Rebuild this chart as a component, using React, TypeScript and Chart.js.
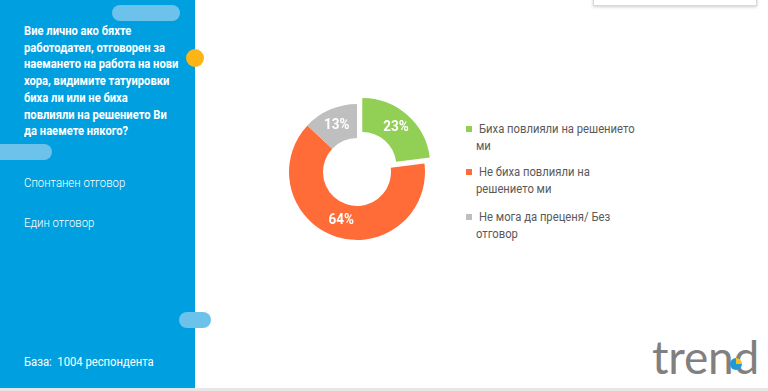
import React, { useEffect, useRef } from "react";
import { Chart, registerables } from "chart.js";

Chart.register(...registerables);

const categories = [
  "Биха повлияли на решението ми",
  "Не биха повлияли на решението ми",
  "Не мога да преценя/ Без отговор",
];
const legendLines = [
  ["Биха повлияли на решението", "ми"],
  ["Не биха повлияли на", "решението ми"],
  ["Не мога да преценя/ Без", "отговор"],
];
const values = [23, 64, 13];
const colors = ["#92CF55", "#FF6C37", "#BFBFBF"];
const offsets = [32, 0, 0];
const questionLines = [
  "Вие лично ако бяхте",
  "работодател, отговорен за",
  "наемането на работа на нови",
  "хора, видимите татуировки",
  "биха ли или не биха",
  "повлияли на решението Ви",
  "да наемете някого?",
];
const noteLines = ["Спонтанен отговор", "Един отговор"];
const baseText = "База:  1004 респондента";

const labelPlugin = {
  id: "sliceLabels",
  afterDatasetsDraw(chart: any) {
    const ctx = chart.ctx;
    const meta = chart.getDatasetMeta(0);
    ctx.save();
    ctx.fillStyle = "#ffffff";
    ctx.font = "bold 15px Roboto";
    ctx.textAlign = "center";
    ctx.textBaseline = "middle";
    meta.data.forEach((arc: any, i: number) => {
      const p = arc.getProps(["x", "y", "startAngle", "endAngle", "innerRadius", "outerRadius"], true);
      const mid = (p.startAngle + p.endAngle) / 2;
      const off = (arc.options.offset || 0) / 4;
      const r = (p.innerRadius + p.outerRadius) / 2;
      const x = p.x + Math.cos(mid) * (r + off);
      const y = p.y + Math.sin(mid) * (r + off);
      ctx.save();
      ctx.translate(x, y);
      ctx.scale(0.9, 1);
      ctx.fillText(values[i] + "%", 0, 0);
      ctx.restore();
    });
    ctx.restore();
  },
};

export default function App() {
  const ref = useRef<HTMLCanvasElement>(null);
  useEffect(() => {
    if (!ref.current) return;
    const chart = new Chart(ref.current, {
      type: "doughnut",
      data: {
        labels: categories,
        datasets: [
          {
            data: values,
            backgroundColor: colors,
            borderWidth: 0,
            offset: offsets,
            hoverOffset: 0,
          },
        ],
      },
      options: {
        animation: false,
        responsive: true,
        maintainAspectRatio: false,
        cutout: "50%",
        rotation: 0,
        layout: { padding: 0 },
        plugins: {
          legend: { display: false },
          tooltip: { enabled: false },
        },
      },
      plugins: [labelPlugin],
    });
    return () => chart.destroy();
  }, []);

  const pill = (left: number, top: number, w: number, h: number) => (
    <div
      style={{
        position: "absolute",
        left,
        top,
        width: w,
        height: h,
        borderRadius: h / 2,
        background: "#6DC2EC",
      }}
    />
  );

  return (
    <div
      style={{
        position: "fixed",
        left: 0,
        top: 0,
        width: 768,
        height: 391,
        background: "#ffffff",
        overflow: "hidden",
        fontFamily: "Roboto, sans-serif",
      }}
    >
      <div style={{ position: "absolute", left: 0, top: 388, width: 768, height: 3, background: "#E6E6E6" }} />
      <div style={{ position: "absolute", left: 0, top: 0, width: 195, height: 388, background: "#009FE0" }} />
      {pill(112, 5, 68, 16)}
      {pill(-10, 144, 62, 16)}
      {pill(179, 312, 32, 16)}
      <div
        style={{
          position: "absolute",
          left: 186,
          top: 49,
          width: 18,
          height: 18,
          borderRadius: 9,
          background: "#FDB515",
        }}
      />
      {questionLines.map((t, i) => (
        <div
          key={t}
          style={{
            position: "absolute",
            left: 24,
            top: 31 + i * 16.7 - 8,
            height: 16,
            lineHeight: "16px",
            whiteSpace: "nowrap",
            color: "#ffffff",
            fontWeight: 700,
            fontSize: 13,
            transform: "scaleX(0.86)",
            transformOrigin: "left center",
          }}
        >
          {t}
        </div>
      ))}
      {noteLines.map((t, i) => (
        <div
          key={t}
          style={{
            position: "absolute",
            left: 24,
            top: 183 + i * 40 - 8,
            height: 16,
            lineHeight: "16px",
            whiteSpace: "nowrap",
            color: "#ffffff",
            fontWeight: 300,
            fontSize: 12.5,
            transform: "scaleX(0.91)",
            transformOrigin: "left center",
          }}
        >
          {t}
        </div>
      ))}
      <div
        style={{
          position: "absolute",
          left: 24,
          top: 362 - 8,
          height: 16,
          lineHeight: "16px",
          whiteSpace: "pre",
          color: "#ffffff",
          fontWeight: 400,
          fontSize: 12.5,
          transform: "scaleX(0.9)",
          transformOrigin: "left center",
        }}
      >
        {baseText}
      </div>
      <div style={{ position: "absolute", left: 273, top: 88, width: 168, height: 168 }}>
        <canvas ref={ref} />
      </div>
      {legendLines.map((lines, i) => (
        <React.Fragment key={i}>
          <div
            style={{
              position: "absolute",
              left: 466,
              top: [129, 172, 217][i] - 3,
              width: 6,
              height: 6,
              background: colors[i],
            }}
          />
          {lines.map((t, j) => (
            <div
              key={j}
              style={{
                position: "absolute",
                left: j === 0 ? 479 : 476,
                top: [129, 172, 217][i] + j * 16.5 - 8,
                height: 16,
                lineHeight: "16px",
                whiteSpace: "nowrap",
                color: "#595959",
                fontSize: 12.5,
                transform: "scaleX(0.9)",
                transformOrigin: "left center",
              }}
            >
              {t}
            </div>
          ))}
        </React.Fragment>
      ))}
      <div
        style={{
          position: "absolute",
          left: 593,
          top: -10,
          width: 162,
          height: 14,
          border: "1px solid #D9D9D9",
          background: "#ffffff",
          boxShadow: "0 1px 3px rgba(0,0,0,0.2)",
        }}
      />
      <div
        style={{
          position: "absolute",
          left: 652,
          top: 332,
          height: 50,
          lineHeight: "50px",
          fontFamily: "Lato, sans-serif",
          fontSize: 46,
          fontWeight: 400,
          color: "#808080",
          whiteSpace: "nowrap",
          letterSpacing: -0.2,
        }}
      >
        trend
      </div>
      <div
        style={{
          position: "absolute",
          left: 730,
          top: 358,
          width: 12,
          height: 12,
          borderRadius: 6,
          background: "conic-gradient(#F9C21A 0deg 90deg, #1F9AD6 90deg 360deg)",
        }}
      />
    </div>
  );
}
